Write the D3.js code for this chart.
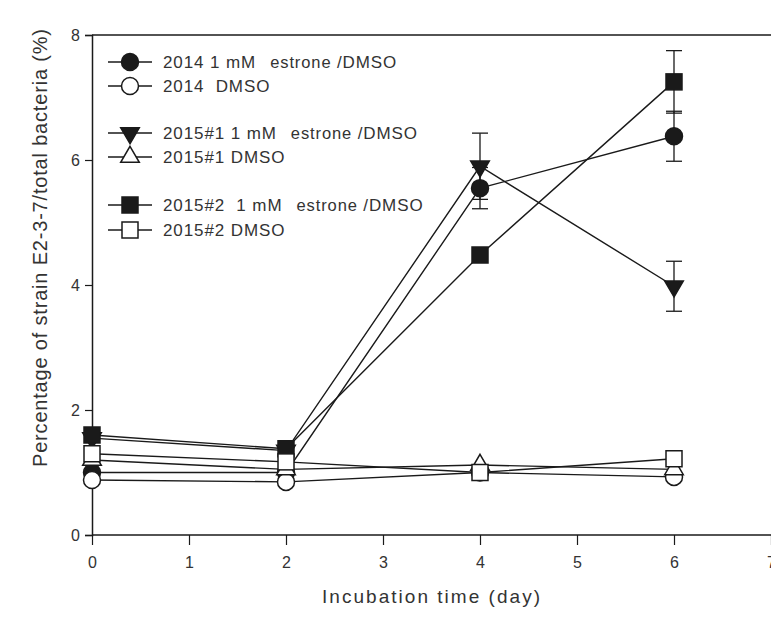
<!DOCTYPE html>
<html>
<head>
<meta charset="utf-8">
<script src="https://cdn.jsdelivr.net/npm/d3@7"></script>
<style>
  body { margin: 0; background: #fff; }
  svg { display: block; font-family: Arial, "Liberation Sans", sans-serif; }
</style>
</head>
<body>
<svg id="chart" width="771" height="618"></svg>
<script>
const days = [0, 2, 4, 6]
const xTicks = [0, 1, 2, 3, 4, 5, 6, 7]
const yTicks = [0, 2, 4, 6, 8]

// values (%)
const c2014Estrone = [1.0, 1.0, 5.55, 6.38]
const c2014Err = [0, 0, 0.33, 0.4]
const c2014Dmso = [0.88, 0.85, 1.0, 0.93]
const c2015a_Estrone = [1.55, 1.35, 5.9, 3.98]
const c2015a_Err = [0, 0, 0.53, 0.4]
const c2015a_Dmso = [1.2, 1.05, 1.12, 1.05]
const c2015b_Estrone = [1.6, 1.38, 4.48, 7.25]
const c2015b_Err = [0, 0, 0, 0.5]
const c2015b_Dmso = [1.3, 1.17, 1.0, 1.22]

const series = [
  {label: "2014 1 mM", small: "estrone", values: c2014Estrone, err: c2014Err, shape: "circle", filled: true},
  {label: "2014  DMSO", values: c2014Dmso, shape: "circle", filled: false},
  {label: "2015#1 1 mM", small: "estrone", values: c2015a_Estrone, err: c2015a_Err, shape: "tridown", filled: true},
  {label: "2015#1 DMSO", values: c2015a_Dmso, shape: "triup", filled: false},
  {label: "2015#2  1 mM", small: "estrone", values: c2015b_Estrone, err: c2015b_Err, shape: "square", filled: true},
  {label: "2015#2 DMSO", values: c2015b_Dmso, shape: "square", filled: false}
]

const svg = d3.select("#chart")
const ink = "#1a1a1a"
const textInk = "#333"

const x = d3.scaleLinear().domain([0, 7]).range([92, 771])
const y = d3.scaleLinear().domain([0, 8]).range([535, 35])

// frame: top line + axes
svg.append("line")
  .attr("x1", x(0)).attr("x2", 771).attr("y1", y(8)).attr("y2", y(8))
  .attr("stroke", ink).attr("stroke-width", 1.5)

const xAxis = svg.append("g")
  .attr("transform", "translate(0," + y(0) + ")")
  .call(d3.axisBottom(x).tickValues(xTicks).tickSize(10).tickPadding(12).tickFormat(d3.format("d")))
const yAxis = svg.append("g")
  .attr("transform", "translate(" + x(0) + ",0)")
  .call(d3.axisLeft(y).tickValues(yTicks).tickSize(7).tickPadding(5).tickFormat(d3.format("d")))

;[xAxis, yAxis].forEach(ax => {
  ax.select(".domain").attr("stroke", ink).attr("stroke-width", 1.5)
  ax.selectAll(".tick line").attr("stroke", ink).attr("stroke-width", 1.2)
  ax.selectAll(".tick text").attr("fill", textInk).style("font-size", "16px")
})
xAxis.select(".domain").attr("d", "M" + x(0) + ",0H771")

// axis titles
svg.append("text")
  .attr("x", 431).attr("y", 603)
  .attr("text-anchor", "middle")
  .attr("fill", textInk)
  .style("font-size", "19px")
  .attr("textLength", 218)
  .text("Incubation time (day)")

svg.append("text")
  .attr("transform", "translate(47," + 248 + ") rotate(-90)")
  .attr("text-anchor", "middle")
  .attr("fill", textInk)
  .style("font-size", "20px")
  .attr("textLength", 438)
  .text("Percentage of strain E2-3-7/total bacteria (%)")

// marker drawing
function marker(g, shape, filled, cx, cy) {
  let m
  if (shape === "circle") {
    m = g.append("circle").attr("cx", cx).attr("cy", cy).attr("r", 8.5)
  } else if (shape === "square") {
    m = g.append("rect").attr("x", cx - 8).attr("y", cy - 8).attr("width", 16).attr("height", 16)
  } else {
    let sym = d3.symbol().type(d3.symbolTriangle).size(150)
    m = g.append("path").attr("d", sym)
      .attr("transform", "translate(" + cx + "," + cy + ")" + (shape === "tridown" ? " rotate(180)" : ""))
  }
  m.attr("fill", filled ? ink : "#fff").attr("stroke", ink).attr("stroke-width", 1.5)
  return m
}

const line = d3.line().x((d, i) => x(days[i])).y(d => y(d))

// lines first, then error bars and markers in legend order
const plot = svg.append("g")
series.forEach(s => {
  plot.append("path")
    .datum(s.values)
    .attr("d", line)
    .attr("fill", "none")
    .attr("stroke", ink)
    .attr("stroke-width", 1.4)
})

series.forEach(s => {
  const g = plot.append("g")
  if (s.err) {
    s.values.forEach((v, i) => {
      const e = s.err[i]
      if (!e) return
      const cx = x(days[i])
      g.append("line").attr("x1", cx).attr("x2", cx).attr("y1", y(v - e)).attr("y2", y(v + e))
        .attr("stroke", ink).attr("stroke-width", 1.3)
      ;[v - e, v + e].forEach(t => {
        g.append("line").attr("x1", cx - 8).attr("x2", cx + 8).attr("y1", y(t)).attr("y2", y(t))
          .attr("stroke", ink).attr("stroke-width", 1.3)
      })
    })
  }
  s.values.forEach((v, i) => marker(g, s.shape, s.filled, x(days[i]), y(v)))
})

// legend
const legendRows = [62, 86, 133, 157, 205, 230]
const legend = svg.append("g")
series.forEach((s, i) => {
  const ly = legendRows[i]
  const g = legend.append("g")
  g.append("line").attr("x1", 108).attr("x2", 152).attr("y1", ly).attr("y2", ly)
    .attr("stroke", ink).attr("stroke-width", 1.4)
  marker(g, s.shape, s.filled, 130, ly)
  const t = g.append("text").attr("x", 163).attr("y", ly + 6)
    .attr("fill", textInk).style("font-size", "17px")
    .style("letter-spacing", "0.9px")
    .attr("xml:space", "preserve")
  t.append("tspan").text(s.label)
  if (s.small) {
    t.append("tspan").attr("dx", 14).style("font-size", "16.5px").text(s.small + " ")
    t.append("tspan").text("/DMSO")
  }
})
</script>
</body>
</html>
